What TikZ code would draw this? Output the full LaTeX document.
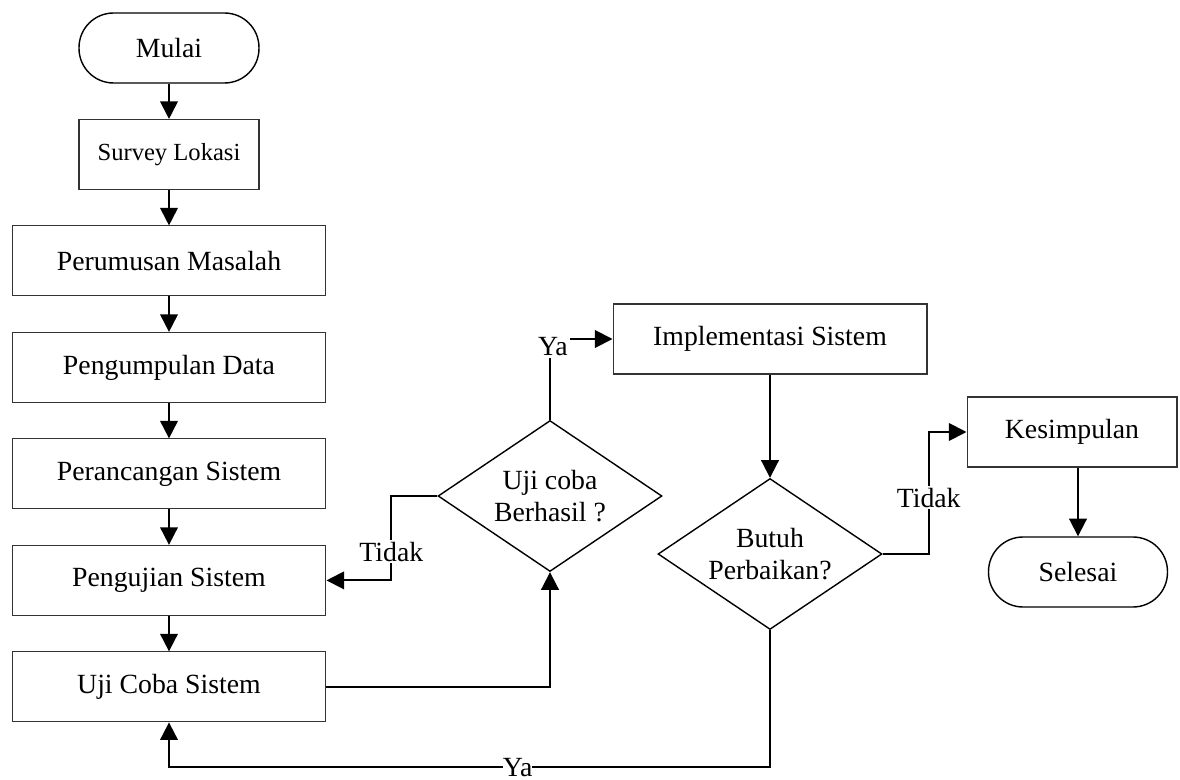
\documentclass[tikz,border=0pt]{standalone}
\usepackage{fontspec}
\setmainfont{Liberation Serif}
\usetikzlibrary{shapes,arrows.meta,calc}
\tikzstyle{arrow}=[draw, line width=1.1pt, -{Triangle[length=10pt,width=10pt]}]
\tikzstyle{proses}=[draw=black!80, line width=0.6pt, rectangle, minimum width=6.28cm, minimum height=1.4cm, font=\fontsize{15.8}{18.5}\selectfont]
\tikzstyle{terminal}=[draw, line width=0.8pt, rectangle, rounded corners=0.69cm, minimum width=3.6cm, minimum height=1.4cm, font=\fontsize{15.8}{18.5}\selectfont]
\tikzstyle{keputusan}=[draw, line width=0.8pt, diamond, aspect=1.48, minimum width=4.48cm, minimum height=3.02cm, inner sep=0pt, align=center, font=\fontsize{15.8}{18.5}\selectfont]
\tikzstyle{teks}=[fill=white, inner sep=1pt, font=\fontsize{15.8}{18.5}\selectfont]

\begin{document}
\begin{tikzpicture}[x=0.02cm, y=-0.02cm, node distance=2.13cm]
\useasboundingbox (0,0) rectangle (1180,780);

\node [terminal] (mulai) at (169,48) {Mulai};
\node [proses, minimum width=3.6cm, font=\fontsize{14}{17}\selectfont] (survey) [below of=mulai] {Survey Lokasi};
\node [proses] (perumusan) [below of=survey] {Perumusan Masalah};
\node [proses] (pengumpulan) [below of=perumusan] {Pengumpulan Data};
\node [proses] (perancangan) [below of=pengumpulan] {Perancangan Sistem};
\node [proses] (pengujian) [below of=perancangan] {Pengujian Sistem};
\node [proses] (ujicoba) [below of=pengujian] {Uji Coba Sistem};

\node [keputusan] (berhasil) at (550,496) {Uji coba\\Berhasil ?};
\node [proses] (implementasi) at (770,339) {Implementasi Sistem};
\node [keputusan] (perbaikan) at (770,554) {Butuh\\Perbaikan?};
\node [proses, minimum width=4.2cm] (kesimpulan) at (1072,432) {Kesimpulan};
\node [terminal, minimum width=3.58cm] (selesai) at (1078,572) {Selesai};

\draw [arrow] (mulai) -- (survey);
\draw [arrow] (survey) -- (perumusan);
\draw [arrow] (perumusan) -- (pengumpulan);
\draw [arrow] (pengumpulan) -- (perancangan);
\draw [arrow] (perancangan) -- (pengujian);
\draw [arrow] (pengujian) -- (ujicoba);

\draw [arrow] (ujicoba.east) -| (berhasil.south);
\draw [arrow] (berhasil.west) -- ++(-46,0) |- node [teks, pos=0.33] {Tidak} (pengujian.east);
\draw [arrow] (berhasil.north) |- node [teks, pos=0.5, xshift=0.06cm, yshift=-0.16cm] {Ya} (implementasi.west);
\draw [arrow] (implementasi) -- (perbaikan);
\draw [arrow] (perbaikan.east) -- ++(46,0) |- node [teks, pos=0.23] {Tidak} (kesimpulan.west);
\draw [arrow] (kesimpulan.south -| selesai.north) -- (selesai.north);
\draw [arrow] (perbaikan.south) -- ++(0,137) -| node [teks, pos=0.21, inner sep=0pt] {Ya} (ujicoba.south);

\end{tikzpicture}
\end{document}
